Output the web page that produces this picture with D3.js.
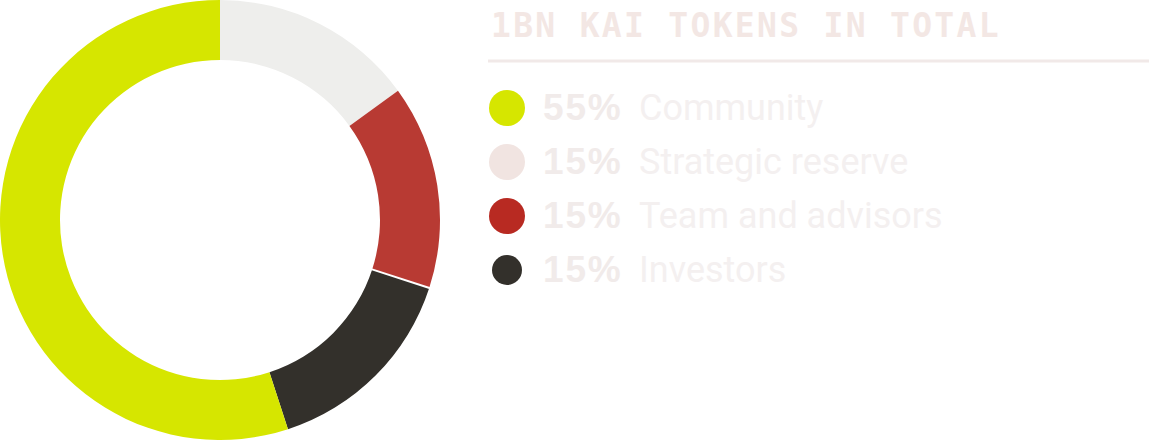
<!DOCTYPE html>
<html><head><meta charset="utf-8">
<script src="https://cdn.jsdelivr.net/npm/d3@7"></script>
<style>html,body{margin:0;padding:0;background:#fff;overflow:hidden}</style>
</head><body>
<svg id="chart" width="1149" height="441"></svg>
<script>
// Data (legend order)
const categories = ["Community", "Strategic reserve", "Team and advisors", "Investors"];
const shares = [55, 15, 15, 15];
const pctLabels = ["55%", "15%", "15%", "15%"];
const ringColors = ["#d6e600", "#eeeeec", "#b83a33", "#33302b"];
const legendColors = ["#d6e600", "#f1e4e1", "#b82a22", "#33302b"];
// Order of slices around the ring, clockwise from 12 o'clock
const ringOrder = ["Strategic reserve", "Team and advisors", "Investors", "Community"];
const title = "1BN KAI TOKENS IN TOTAL";

const svg = d3.select("#chart");
const cx = 220, cy = 220, rOut = 220, rIn = 160;

const ringData = ringOrder.map(n => {
  const i = categories.indexOf(n);
  return {name: n, value: shares[i], color: ringColors[i]};
});
const pie = d3.pie().sort(null).value(d => d.value).startAngle(0).endAngle(2 * Math.PI);
const arc = d3.arc().innerRadius(rIn).outerRadius(rOut);

const g = svg.append("g").attr("transform", `translate(${cx},${cy})`);
const arcs = pie(ringData);
g.selectAll("path.slice").data(arcs).join("path")
  .attr("class", "slice")
  .attr("d", arc)
  .attr("fill", d => d.data.color);

// thin white separator between Team and Investors
const sepAngle = arcs[1].endAngle;
g.append("line")
  .attr("x1", Math.sin(sepAngle) * (rIn - 1)).attr("y1", -Math.cos(sepAngle) * (rIn - 1))
  .attr("x2", Math.sin(sepAngle) * (rOut + 1)).attr("y2", -Math.cos(sepAngle) * (rOut + 1))
  .attr("stroke", "#fff").attr("stroke-width", 2);

// Title
svg.append("text")
  .attr("x", 491).attr("y", 37)
  .attr("font-family", "'DejaVu Sans Mono', monospace")
  .attr("font-weight", "bold").attr("font-size", 33)
  .attr("letter-spacing", 2.3)
  .attr("fill", "#f3e7e4")
  .text(title);
svg.append("rect").attr("x", 488).attr("y", 59.5).attr("width", 661).attr("height", 3)
  .attr("fill", "#f1e9e8");

// Legend
const y = d3.scalePoint().domain(categories).range([108, 270]);
const rows = svg.selectAll("g.row").data(categories).join("g").attr("class", "row");
rows.append("circle")
  .attr("cx", 507).attr("cy", d => y(d))
  .attr("r", (d, i) => i === 3 ? 15 : 18)
  .attr("fill", (d, i) => legendColors[i]);
rows.append("text")
  .attr("x", 543).attr("y", d => y(d) + 12)
  .attr("font-family", "'Liberation Sans', Arial, sans-serif")
  .attr("font-weight", "bold").attr("font-size", 37)
  .attr("letter-spacing", 1.8)
  .attr("fill", "#f1ebea")
  .text((d, i) => pctLabels[i]);
rows.append("text")
  .attr("x", 639).attr("y", d => y(d) + 12)
  .attr("font-family", "Roboto, sans-serif")
  .attr("font-size", 36)
  .attr("fill", "#f4f0f0")
  .text(d => d);
</script>
</body></html>
